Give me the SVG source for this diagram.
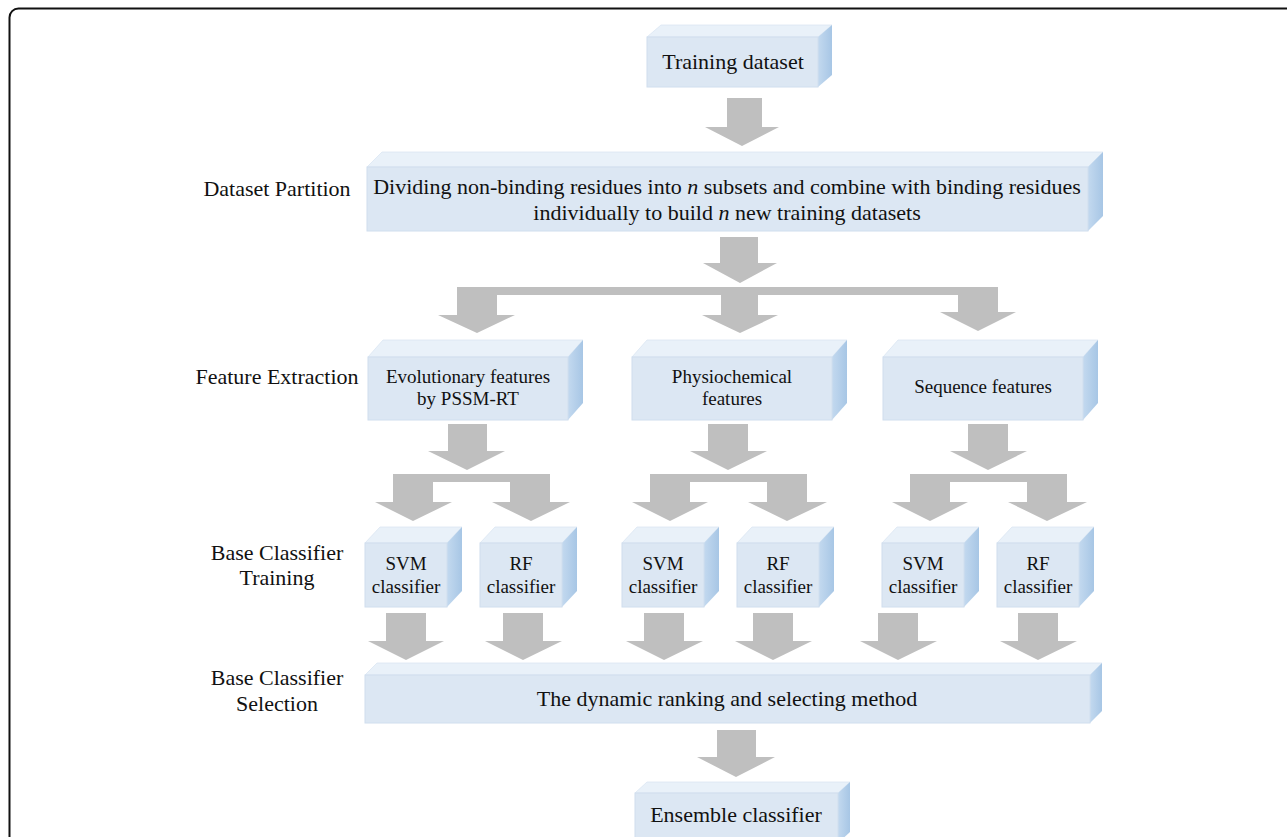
<svg xmlns="http://www.w3.org/2000/svg" width="1287" height="837" viewBox="0 0 1287 837">
<defs>
<linearGradient id="sideg" x1="0" y1="0" x2="1" y2="0">
<stop offset="0" stop-color="#c3d9ef"/>
<stop offset="1" stop-color="#a7c6e5"/>
</linearGradient>
<style>
.front{fill:#dce7f3;stroke:#d0deee;stroke-width:1}
.top{fill:#e9f1f9;stroke:#dbe6f2;stroke-width:0.8}
.side{fill:url(#sideg)}
.arr{fill:#bfbfbf}
.t{font-family:"Liberation Serif","Times New Roman",serif;fill:#111;text-anchor:middle}
.lab{font-size:22px}
.big{font-size:22px}
.sm{font-size:19px}
</style>
</defs>
<rect width="1287" height="837" fill="#ffffff"/>
<rect x="9.5" y="8.5" width="1300" height="860" rx="9" ry="9" fill="none" stroke="#111" stroke-width="2"/>

<g id="labels">
<text class="t lab" x="277" y="196">Dataset Partition</text>
<text class="t lab" x="277" y="384">Feature Extraction</text>
<text class="t lab" x="277" y="560">Base Classifier</text>
<text class="t lab" x="277" y="585">Training</text>
<text class="t lab" x="277" y="685">Base Classifier</text>
<text class="t lab" x="277" y="711">Selection</text>
</g>

<g id="connectors">
<path class="arr" d="M727,98 H762 V127 H779 L742,146 L705,127 H727 Z"/>
<path class="arr" d="M720,237 H758 V263 H777 L740,283 L703,263 H720 Z"/>
<path class="arr" d="M457,287 H998 V312 H1016 L978,331 L940,312 H958 V295 H758 V315 H778 L740,333 L702,315 H721 V295 H497 V315 H515 L477,333 L438,315 H457 Z"/>
<path class="arr" d="M448,424 H487 V451 H505 L467,470 L428,451 H448 Z"/>
<path class="arr" d="M393,474 H550 V502 H570 L531,521 L492,502 H510 V482 H433 V502 H452 L413,521 L375,502 H393 Z"/>
<path class="arr" d="M708,424 H748 V451 H767 L728,470 L690,451 H708 Z"/>
<path class="arr" d="M650,474 H807 V502 H827 L787,521 L748,502 H767 V482 H690 V502 H708 L670,521 L632,502 H650 Z"/>
<path class="arr" d="M968,424 H1008 V451 H1027 L988,470 L950,451 H968 Z"/>
<path class="arr" d="M910,474 H1067 V502 H1087 L1047,521 L1008,502 H1027 V482 H950 V502 H968 L930,521 L892,502 H910 Z"/>
<path class="arr" d="M386,613 H426 V641 H444 L406,660 L368,641 H386 Z"/>
<path class="arr" d="M503,613 H543 V641 H562 L523,660 L485,641 H503 Z"/>
<path class="arr" d="M644,613 H684 V641 H703 L664,660 L626,641 H644 Z"/>
<path class="arr" d="M753,613 H793 V641 H812 L773,660 L735,641 H753 Z"/>
<path class="arr" d="M878,613 H918 V641 H937 L898,660 L860,641 H878 Z"/>
<path class="arr" d="M1018,613 H1058 V641 H1077 L1038,660 L1000,641 H1018 Z"/>
<path class="arr" d="M717,730 H756 V757 H775 L736,777 L697,757 H717 Z"/>
</g>

<g id="training-dataset">
<polygon class="top" points="647,37 661,25 832,25 818,37"/>
<polygon class="side" points="818,37 832,25 832,75 818,87"/>
<rect class="front" x="647" y="37" width="171" height="50"/>
<text class="t big" x="733" y="69">Training dataset</text>
</g>

<g id="dataset-partition">
<polygon class="top" points="367,167 382,152 1103,152 1088,167"/>
<polygon class="side" points="1088,167 1103,152 1103,216 1088,231"/>
<rect class="front" x="367" y="167" width="721" height="64"/>
<text class="t big" x="727" y="194">Dividing non-binding residues into <tspan font-style="italic">n</tspan> subsets and combine with binding residues</text>
<text class="t big" x="727" y="220">individually to build <tspan font-style="italic">n</tspan> new training datasets</text>
</g>

<g id="evolutionary-features">
<polygon class="top" points="368,357 383,340 583,340 568,357"/>
<polygon class="side" points="568,357 583,340 583,403 568,420"/>
<rect class="front" x="368" y="357" width="200" height="63"/>
<text class="t sm" x="468" y="383">Evolutionary features</text>
<text class="t sm" x="468" y="405">by PSSM-RT</text>
</g>

<g id="physiochemical-features">
<polygon class="top" points="632,357 647,340 847,340 832,357"/>
<polygon class="side" points="832,357 847,340 847,403 832,420"/>
<rect class="front" x="632" y="357" width="200" height="63"/>
<text class="t sm" x="732" y="383">Physiochemical</text>
<text class="t sm" x="732" y="405">features</text>
</g>

<g id="sequence-features">
<polygon class="top" points="883,357 898,340 1098,340 1083,357"/>
<polygon class="side" points="1083,357 1098,340 1098,403 1083,420"/>
<rect class="front" x="883" y="357" width="200" height="63"/>
<text class="t sm" x="983" y="393">Sequence features</text>
</g>

<g id="svm-1">
<polygon class="top" points="365,543 380,527 462,527 447,543"/>
<polygon class="side" points="447,543 462,527 462,591 447,607"/>
<rect class="front" x="365" y="543" width="82" height="64"/>
<text class="t sm" x="406" y="570">SVM</text>
<text class="t sm" x="406" y="593">classifier</text>
</g>
<g id="rf-1">
<polygon class="top" points="480,543 495,527 577,527 562,543"/>
<polygon class="side" points="562,543 577,527 577,591 562,607"/>
<rect class="front" x="480" y="543" width="82" height="64"/>
<text class="t sm" x="521" y="570">RF</text>
<text class="t sm" x="521" y="593">classifier</text>
</g>
<g id="svm-2">
<polygon class="top" points="622,543 637,527 719,527 704,543"/>
<polygon class="side" points="704,543 719,527 719,591 704,607"/>
<rect class="front" x="622" y="543" width="82" height="64"/>
<text class="t sm" x="663" y="570">SVM</text>
<text class="t sm" x="663" y="593">classifier</text>
</g>
<g id="rf-2">
<polygon class="top" points="737,543 752,527 834,527 819,543"/>
<polygon class="side" points="819,543 834,527 834,591 819,607"/>
<rect class="front" x="737" y="543" width="82" height="64"/>
<text class="t sm" x="778" y="570">RF</text>
<text class="t sm" x="778" y="593">classifier</text>
</g>
<g id="svm-3">
<polygon class="top" points="882,543 897,527 979,527 964,543"/>
<polygon class="side" points="964,543 979,527 979,591 964,607"/>
<rect class="front" x="882" y="543" width="82" height="64"/>
<text class="t sm" x="923" y="570">SVM</text>
<text class="t sm" x="923" y="593">classifier</text>
</g>
<g id="rf-3">
<polygon class="top" points="997,543 1012,527 1094,527 1079,543"/>
<polygon class="side" points="1079,543 1094,527 1094,591 1079,607"/>
<rect class="front" x="997" y="543" width="82" height="64"/>
<text class="t sm" x="1038" y="570">RF</text>
<text class="t sm" x="1038" y="593">classifier</text>
</g>

<g id="selection-method">
<polygon class="top" points="365,675 377,663 1102,663 1090,675"/>
<polygon class="side" points="1090,675 1102,663 1102,711 1090,723"/>
<rect class="front" x="365" y="675" width="725" height="48"/>
<text class="t big" x="727" y="706">The dynamic ranking and selecting method</text>
</g>

<g id="ensemble-classifier">
<polygon class="top" points="635,793 647,782 850,782 838,793"/>
<polygon class="side" points="838,793 850,782 850,832 838,843"/>
<rect class="front" x="635" y="793" width="203" height="50"/>
<text class="t big" x="736" y="822">Ensemble classifier</text>
</g>
</svg>
